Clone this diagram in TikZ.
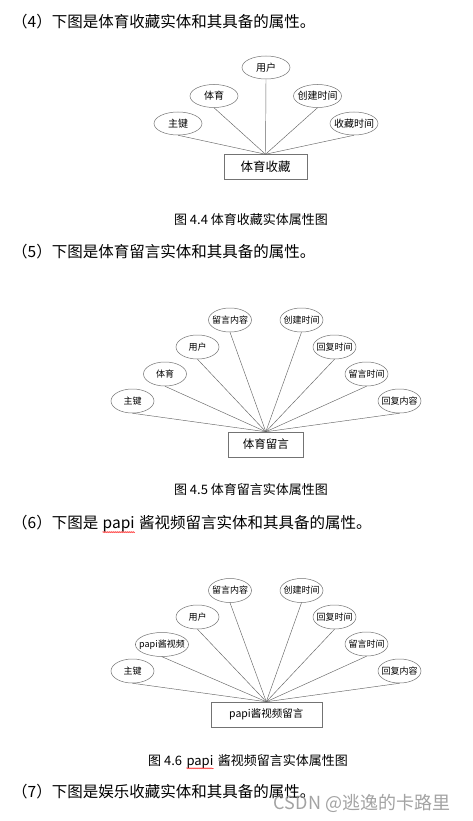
\documentclass[tikz,border=0pt]{standalone}
\usepackage{fontspec}
\setmainfont{Noto Sans CJK SC}
\usetikzlibrary{shapes.geometric,positioning,decorations.pathmorphing}

\tikzset{
  attr/.style={ellipse, draw=black!55, line width=0.5pt, inner xsep=-4pt, inner ysep=0pt,
    minimum width=43pt, minimum height=24pt, font=\fontsize{9}{10}\selectfont},
  bigattr/.style={attr, minimum width=48pt, minimum height=23pt, font=\fontsize{10}{11}\selectfont},
  entity/.style={rectangle, draw=black!55, line width=0.5pt, minimum height=25pt, inner sep=0pt},
  link/.style={draw=black!60, line width=0.45pt},
  heading/.style={anchor=west, inner sep=0pt, font=\fontsize{15.5}{16}\selectfont},
  caption/.style={inner sep=0pt, font=\fontsize{13}{14}\selectfont},
  typo/.style={decorate, decoration={snake, amplitude=0.6pt, segment length=2pt}, draw=red, line width=0.4pt},
  wmark/.style={inner sep=0pt, text=black!45, text opacity=0.8, font=\fontsize{18}{19}\selectfont}
}

\begin{document}
\begin{tikzpicture}[x=1pt,y=-1pt]
  \useasboundingbox[fill=white] (0,0) rectangle (473,821);

  % (4) sports favourite
  \node[heading] (h4) at (12,22) {（4）下图是体育收藏实体和其具备的属性。};
  \node[bigattr] (a1) at (178,123.5) {主键};
  \node[bigattr] (a2) at (214,96) {体育};
  \node[bigattr] (a3) at (266,67.5) {用户};
  \node[bigattr] (a4) at (317.5,96) {创建时间};
  \node[bigattr] (a5) at (354,123.5) {收藏时间};
  \node[entity, minimum width=83pt, font=\fontsize{12.5}{13}\selectfont] (e1) at (265.5,167) {体育收藏};
  \foreach \i in {1,...,5}
    \draw[link] (a\i.south) -- (e1.north);
  \node[caption] (c4) at (251,220) {图 4.4 体育收藏实体属性图};

  % (5) sports message
  \node[heading] (h5) at (12,252) {（5）下图是体育留言实体和其具备的属性。};
  \node[attr] (b1) at (132.5,401) {主键};
  \node[attr] (b2) at (165,374) {体育};
  \node[attr] (b3) at (197.5,347) {用户};
  \node[attr] (b4) at (230,320) {留言内容};
  \node[attr] (b5) at (301.5,320) {创建时间};
  \node[attr] (b6) at (334.5,347) {回复时间};
  \node[attr] (b7) at (366.5,374) {留言时间};
  \node[attr] (b8) at (399.5,401) {回复内容};
  \node[entity, minimum width=75pt, font=\fontsize{11.5}{12}\selectfont] (e2) at (265.8,444.5) {体育留言};
  \foreach \i in {1,...,8}
    \draw[link] (b\i.south) -- (e2.north);
  \node[caption] (c5) at (251,490) {图 4.5 体育留言实体属性图};

  % (6) papi video message
  \node[heading] (h6) at (12,523) {（6）下图是};
  \node[heading, base right=4pt of h6] (h6p) {papi};
  \node[heading, base right=4pt of h6p] (h6r) {酱视频留言实体和其具备的属性。};
  \draw[typo] ([yshift=0.5pt]h6p.south west) -- ([yshift=0.5pt]h6p.south east);
  \node[attr] (d1) at (132.5,671) {主键};
  \node[attr, minimum width=50pt] (d2) at (162,644.5) {papi酱视频};
  \node[attr] (d3) at (197.5,617) {用户};
  \node[attr] (d4) at (230,590.5) {留言内容};
  \node[attr] (d5) at (301.5,590.5) {创建时间};
  \node[attr] (d6) at (334.5,617) {回复时间};
  \node[attr] (d7) at (366.5,644) {留言时间};
  \node[attr] (d8) at (399.5,671) {回复内容};
  \node[entity, minimum width=111pt, font=\fontsize{10.5}{11}\selectfont] (e3) at (266.3,714.5) {papi酱视频留言};
  \foreach \i in {1,...,8}
    \draw[link] (d\i.south) -- (e3.north);
  \node[caption, anchor=west] (c6) at (148,761) {图 4.6};
  \node[caption, base right=4pt of c6] (c6p) {papi};
  \node[caption, base right=4pt of c6p] (c6r) {酱视频留言实体属性图};
  \draw[typo] ([yshift=0.5pt]c6p.south west) -- ([yshift=0.5pt]c6p.south east);

  % (7) next heading, under the watermark
  \node[heading] (h7) at (12,792) {（7）下图是娱乐收藏实体和其具备的属性。};
  \node[wmark] (mark) at (362,803) {CSDN @逃逸的卡路里};
\end{tikzpicture}
\end{document}
